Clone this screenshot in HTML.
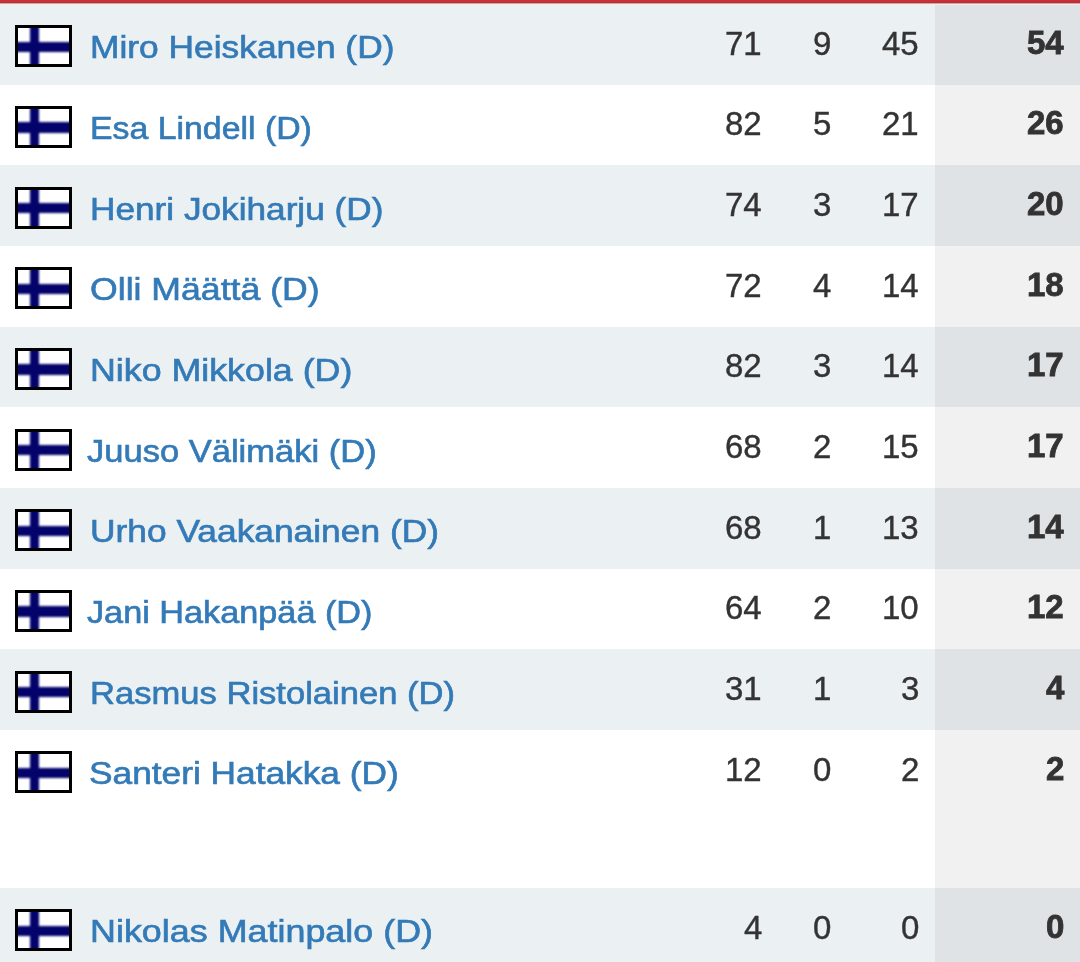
<!DOCTYPE html><html><head><meta charset="utf-8"><style>
html,body{margin:0;padding:0;width:1080px;height:962px;overflow:hidden;background:#fff;}
body{position:relative;-webkit-font-smoothing:antialiased;font-family:"Liberation Sans",sans-serif;}
.bar{position:absolute;z-index:5;left:0;top:0;width:1080px;height:5px;background:linear-gradient(#c73035 0,#c73035 2px,#a9363d 2px,#a9363d 3px,#d9a2a7 3px,#d9a2a7 4px,#f8e9eb 4px,#f8e9eb 5px);}
.row{position:absolute;left:0;width:1080px;}
.row .tc{position:absolute;left:935px;top:0;bottom:0;right:0;}
.a{background:#ebf0f3;} .a .tc{background:#dfe3e6;}
.b{background:#ffffff;} .b .tc{background:#f1f1f1;}
.flag{position:absolute;left:15px;width:51px;height:36px;border:3px solid #000;background:#fff;overflow:hidden;}
.flag i{position:absolute;background:#03036b;filter:blur(0.9px);}
.flag .v{left:12.1px;top:-2px;width:9.1px;height:40px;}
.flag .h{left:-2px;top:13.2px;width:55px;height:10.4px;}
.nm{position:absolute;left:90px;font-size:32px;color:#337ab7;-webkit-text-stroke:0.65px #337ab7;white-space:nowrap;transform-origin:0 0;}
.n{position:absolute;will-change:transform;font-size:33px;color:#333;-webkit-text-stroke:0.4px #333;white-space:nowrap;text-align:right;}
.t{position:absolute;will-change:transform;font-size:33px;color:#333;-webkit-text-stroke:0.8px #333;font-weight:bold;white-space:nowrap;text-align:right;}
</style></head><body>
<div class="bar"></div>

<div class="row a" style="top:4.000px;height:80.667px">
<div class="tc"></div>
<div class="flag" style="top:21.4px"><i class="v"></i><i class="h"></i></div>
<div class="nm" style="left:89.71px;top:25.2px;transform:scaleX(1.1045)">Miro Heiskanen (D)</div>
<div class="n" style="right:318px;top:20.8px">71</div>
<div class="n" style="right:249px;top:20.8px">9</div>
<div class="n" style="right:161px;top:20.8px">45</div>
<div class="t" style="right:16px;top:19.6px">54</div>
</div>
<div class="row b" style="top:84.667px;height:80.667px">
<div class="tc"></div>
<div class="flag" style="top:21.4px"><i class="v"></i><i class="h"></i></div>
<div class="nm" style="left:89.82px;top:25.2px;transform:scaleX(1.0572)">Esa Lindell (D)</div>
<div class="n" style="right:318px;top:20.8px">82</div>
<div class="n" style="right:249px;top:20.8px">5</div>
<div class="n" style="right:161px;top:20.8px">21</div>
<div class="t" style="right:16px;top:19.6px">26</div>
</div>
<div class="row a" style="top:165.334px;height:80.667px">
<div class="tc"></div>
<div class="flag" style="top:21.4px"><i class="v"></i><i class="h"></i></div>
<div class="nm" style="left:89.72px;top:25.2px;transform:scaleX(1.1000)">Henri Jokiharju (D)</div>
<div class="n" style="right:318px;top:20.8px">74</div>
<div class="n" style="right:249px;top:20.8px">3</div>
<div class="n" style="right:161px;top:20.8px">17</div>
<div class="t" style="right:16px;top:19.6px">20</div>
</div>
<div class="row b" style="top:246.001px;height:80.667px">
<div class="tc"></div>
<div class="flag" style="top:21.4px"><i class="v"></i><i class="h"></i></div>
<div class="nm" style="left:90.24px;top:25.2px;transform:scaleX(1.1134)">Olli Määttä (D)</div>
<div class="n" style="right:318px;top:20.8px">72</div>
<div class="n" style="right:249px;top:20.8px">4</div>
<div class="n" style="right:161px;top:20.8px">14</div>
<div class="t" style="right:16px;top:19.6px">18</div>
</div>
<div class="row a" style="top:326.668px;height:80.667px">
<div class="tc"></div>
<div class="flag" style="top:21.4px"><i class="v"></i><i class="h"></i></div>
<div class="nm" style="left:89.68px;top:25.2px;transform:scaleX(1.1178)">Niko Mikkola (D)</div>
<div class="n" style="right:318px;top:20.8px">82</div>
<div class="n" style="right:249px;top:20.8px">3</div>
<div class="n" style="right:161px;top:20.8px">14</div>
<div class="t" style="right:16px;top:19.6px">17</div>
</div>
<div class="row b" style="top:407.335px;height:80.667px">
<div class="tc"></div>
<div class="flag" style="top:21.4px"><i class="v"></i><i class="h"></i></div>
<div class="nm" style="left:87.06px;top:25.2px;transform:scaleX(1.0788)">Juuso Välimäki (D)</div>
<div class="n" style="right:318px;top:20.8px">68</div>
<div class="n" style="right:249px;top:20.8px">2</div>
<div class="n" style="right:161px;top:20.8px">15</div>
<div class="t" style="right:16px;top:19.6px">17</div>
</div>
<div class="row a" style="top:488.002px;height:80.667px">
<div class="tc"></div>
<div class="flag" style="top:21.4px"><i class="v"></i><i class="h"></i></div>
<div class="nm" style="left:90.17px;top:25.2px;transform:scaleX(1.1042)">Urho Vaakanainen (D)</div>
<div class="n" style="right:318px;top:20.8px">68</div>
<div class="n" style="right:249px;top:20.8px">1</div>
<div class="n" style="right:161px;top:20.8px">13</div>
<div class="t" style="right:16px;top:19.6px">14</div>
</div>
<div class="row b" style="top:568.669px;height:80.667px">
<div class="tc"></div>
<div class="flag" style="top:21.4px"><i class="v"></i><i class="h"></i></div>
<div class="nm" style="left:87.05px;top:25.2px;transform:scaleX(1.0701)">Jani Hakanpää (D)</div>
<div class="n" style="right:318px;top:20.8px">64</div>
<div class="n" style="right:249px;top:20.8px">2</div>
<div class="n" style="right:161px;top:20.8px">10</div>
<div class="t" style="right:16px;top:19.6px">12</div>
</div>
<div class="row a" style="top:649.336px;height:80.667px">
<div class="tc"></div>
<div class="flag" style="top:21.4px"><i class="v"></i><i class="h"></i></div>
<div class="nm" style="left:89.76px;top:25.2px;transform:scaleX(1.0805)">Rasmus Ristolainen (D)</div>
<div class="n" style="right:318px;top:20.8px">31</div>
<div class="n" style="right:249px;top:20.8px">1</div>
<div class="n" style="right:161px;top:20.8px">3</div>
<div class="t" style="right:16px;top:19.6px">4</div>
</div>
<div class="row b" style="top:730.003px;height:157.997px">
<div class="tc"></div>
<div class="flag" style="top:21.4px"><i class="v"></i><i class="h"></i></div>
<div class="nm" style="left:89.40px;top:25.2px;transform:scaleX(1.1022)">Santeri Hatakka (D)</div>
<div class="n" style="right:318px;top:20.8px">12</div>
<div class="n" style="right:249px;top:20.8px">0</div>
<div class="n" style="right:161px;top:20.8px">2</div>
<div class="t" style="right:16px;top:19.6px">2</div>
</div>
<div class="row a" style="top:888.000px;height:74.000px">
<div class="tc"></div>
<div class="flag" style="top:21.4px"><i class="v"></i><i class="h"></i></div>
<div class="nm" style="left:89.67px;top:25.2px;transform:scaleX(1.1214)">Nikolas Matinpalo (D)</div>
<div class="n" style="right:318px;top:20.8px">4</div>
<div class="n" style="right:249px;top:20.8px">0</div>
<div class="n" style="right:161px;top:20.8px">0</div>
<div class="t" style="right:16px;top:19.6px">0</div>
</div>
</body></html>
